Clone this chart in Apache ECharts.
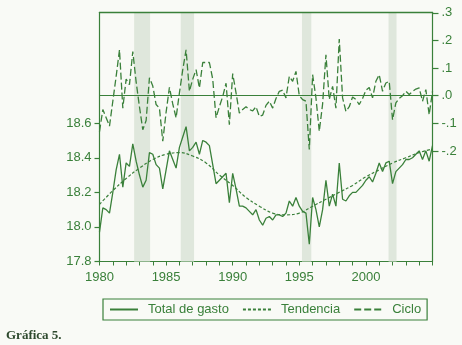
<!DOCTYPE html>
<html>
<head>
<meta charset="utf-8">
<script src="https://cdn.jsdelivr.net/npm/echarts@6/dist/echarts.min.js"></script>
<style>
html,body{margin:0;padding:0;background:#f9faf6;}
#c{width:462px;height:345px;}
</style>
</head>
<body>
<div id="c"></div>
<script>
// Quarterly data, 1980Q1 .. 2005Q1
var startYear = 1980;
var totalGasto = [
 17.97,18.11,18.10,18.08,18.20,18.33,18.42,18.23,18.37,18.35,
 18.48,18.38,18.30,18.23,18.27,18.43,18.42,18.36,18.34,18.22,
 18.33,18.44,18.39,18.34,18.46,18.52,18.58,18.44,18.46,18.49,
 18.42,18.50,18.49,18.47,18.36,18.25,18.27,18.29,18.31,18.14,
 18.31,18.22,18.12,18.12,18.11,18.09,18.07,18.10,18.04,18.01,
 18.05,18.06,18.04,18.07,18.07,18.06,18.08,18.15,18.12,18.17,
 18.12,18.09,18.08,17.90,18.17,18.10,18.00,18.10,18.27,18.12,
 18.19,18.12,18.37,18.16,18.15,18.18,18.20,18.20,18.22,18.24,
 18.27,18.29,18.26,18.31,18.37,18.32,18.37,18.38,18.25,18.32,
 18.34,18.36,18.39,18.39,18.40,18.42,18.44,18.39,18.44,18.38,
 18.47
];
var ciclo = [
 -0.13,-0.05,-0.08,-0.11,-0.02,0.07,0.166,-0.045,0.06,0.04,
 0.16,0.05,-0.04,-0.123,-0.09,0.065,0.035,-0.032,-0.045,-0.165,
 -0.06,0.03,-0.03,-0.08,0.01,0.094,0.166,0.016,0.06,0.094,
 0.028,0.12,0.12,0.12,0.06,-0.08,-0.04,-0.003,0.045,-0.105,
 0.08,0.01,-0.063,-0.05,-0.04,-0.05,-0.055,-0.04,-0.075,-0.07,
 -0.035,-0.02,-0.045,-0.01,0.016,0.02,-0.008,0.07,0.052,0.088,
 0.0,-0.014,-0.02,-0.195,0.076,-0.008,-0.129,-0.03,0.148,-0.014,
 0.034,-0.045,0.205,-0.008,-0.057,-0.04,-0.005,-0.014,-0.032,-0.01,
 0.02,0.03,-0.008,0.052,0.076,0.016,0.046,0.052,-0.087,-0.026,
 -0.01,0.0,0.016,0.004,0.015,0.024,0.028,-0.02,0.022,-0.069,
 0.016
];
// Trend, annual points 1980..2005
var trendYears = [1980,1981,1982,1983,1984,1985,1986,1987,1988,1989,1990,1991,1992,
                  1993,1994,1995,1996,1997,1998,1999,2000,2001,2002,2003,2004,2005];
var tendencia = [18.13,18.21,18.28,18.34,18.39,18.42,18.43,18.41,18.37,18.30,18.24,18.17,18.12,
                 18.08,18.07,18.08,18.12,18.16,18.20,18.24,18.29,18.33,18.37,18.40,18.43,18.45];
var recesiones = [[1982.6,1983.8],[1986.1,1987.1],[1995.2,1995.9],[2001.7,2002.3]];
var leftTicks = [17.8,18.0,18.2,18.4,18.6];
var rightTicks = [-0.2,-0.1,0.0,0.1,0.2,0.3];
var xLabels = [1980,1985,1990,1995,2000];

var green = '#3a803a';
var font = 'Liberation Sans, Arial, sans-serif';

function q(i){ return startYear + i/4; }
var totalData = totalGasto.map(function(v,i){ return [q(i), v]; });
var cicloData = ciclo.map(function(v,i){ return [q(i), v]; });
var trendData = tendencia.map(function(v,i){ return [trendYears[i], v]; });
var areas = recesiones.map(function(r){ return [{xAxis:r[0]},{xAxis:r[1]}]; });

var chart = echarts.init(document.getElementById('c'));
chart.setOption({
  animation:false,
  backgroundColor:'#f9faf6',
  grid:{left:99.5,top:12.5,right:29.5,bottom:83.5,show:false},
  legend:{
    left:103, top:299, orient:'horizontal',
    borderColor:green, borderWidth:1.2, padding:[4,6,4,6],
    itemWidth:28, itemHeight:10, itemGap:13,
    itemStyle:{opacity:0},
    textStyle:{color:green,fontSize:13,fontFamily:font,padding:[0,0,0,5]},
    data:['Total de gasto','Tendencia','Ciclo']
  },
  xAxis:{
    type:'value', min:1980, max:2005, interval:1,
    axisLine:{show:true,onZero:false,lineStyle:{color:green,width:1.2}},
    axisTick:{show:true,length:4,lineStyle:{color:green,width:1}},
    axisLabel:{color:green,fontSize:13,fontFamily:font,margin:9,
      customValues:xLabels,
      formatter:function(v){ return String(v); }},
    splitLine:{show:false}
  },
  yAxis:[{
    type:'value', min:17.8, max:19.24, position:'left',
    axisLine:{show:true,onZero:false,lineStyle:{color:green,width:1.2}},
    axisTick:{show:true,length:5,lineStyle:{color:green,width:1.2},customValues:leftTicks},
    axisLabel:{color:green,fontSize:13,fontFamily:font,margin:8,customValues:leftTicks,
      formatter:function(v){ return v.toFixed(1); }},
    splitLine:{show:false}
  },{
    type:'value', min:-0.6, max:0.301, position:'right',
    axisLine:{show:true,onZero:false,lineStyle:{color:green,width:1.2}},
    axisTick:{show:true,length:6,lineStyle:{color:green,width:1.2},customValues:rightTicks},
    axisLabel:{color:green,fontSize:13,fontFamily:font,margin:9,customValues:rightTicks,
      formatter:function(v){ var s=Math.abs(v).toFixed(1).replace(/^0/,''); return (v< -1e-9?'-':'')+s; }},
    splitLine:{show:false}
  }],
  series:[{
    name:'Total de gasto', type:'line', yAxisIndex:0, data:totalData, symbol:'none',
    lineStyle:{color:green,width:1.3}, itemStyle:{color:green},
    markArea:{silent:true, itemStyle:{color:'#dfe7dc'}, data:areas},
    z:3
  },{
    name:'Tendencia', type:'line', yAxisIndex:0, data:trendData, symbol:'none', smooth:0.4,
    lineStyle:{color:green,width:1.2,type:[3,2]}, itemStyle:{color:green}, z:3
  },{
    name:'Ciclo', type:'line', yAxisIndex:1, data:cicloData, symbol:'none',
    lineStyle:{color:green,width:1.3,type:[7,3]}, itemStyle:{color:green},
    markLine:{silent:true, symbol:'none', label:{show:false},
      lineStyle:{color:green,width:1,type:'solid'}, data:[{yAxis:0}]},
    z:3
  }],
  graphic:[{
    id:'caption', type:'text', left:6, top:329,
    style:{text:'Gráfica 5.', font:'bold 13px "Liberation Serif", "DejaVu Serif", serif', fill:'#2e4a2e'}
  }]
});
// Top edge of the plot frame, placed with the axes' own scales
var tl = chart.convertToPixel({xAxisIndex:0, yAxisIndex:0}, [1980, 19.24]);
var tr = chart.convertToPixel({xAxisIndex:0, yAxisIndex:0}, [2005, 19.24]);
if (tl && tr) {
  chart.setOption({
    graphic:[{
      id:'frameTop', type:'rect', silent:true, z:10,
      shape:{x:tl[0]-0.6, y:tl[1]-0.7, width:tr[0]-tl[0]+1.2, height:1.4},
      style:{fill:green}
    }]
  });
}
</script>
</body>
</html>
